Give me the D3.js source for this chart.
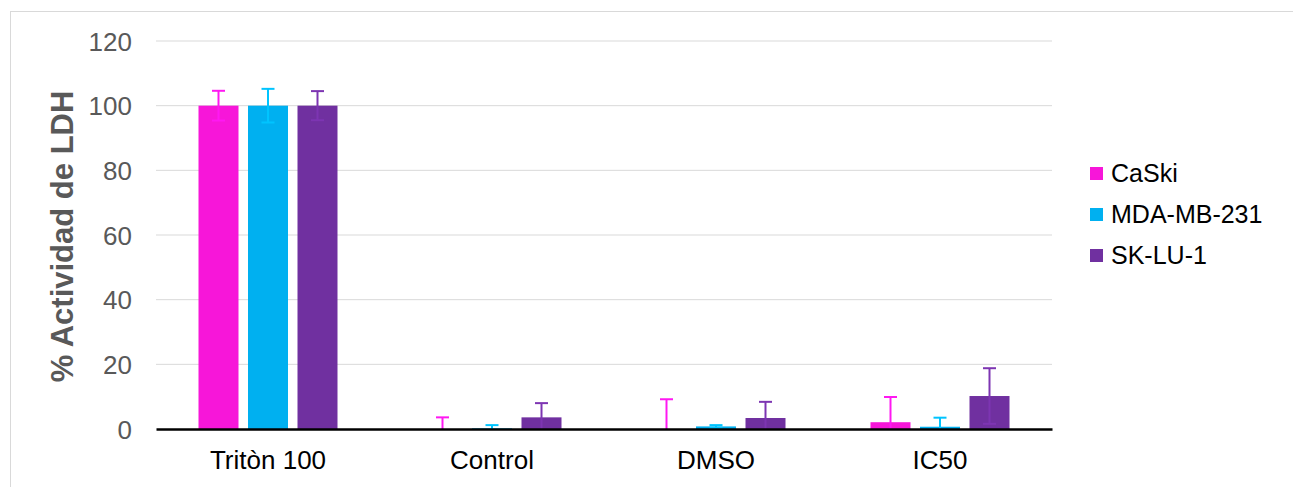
<!DOCTYPE html>
<html><head><meta charset="utf-8">
<script src="https://cdn.jsdelivr.net/npm/d3@7"></script>
<style>body{margin:0;background:#fff}svg{display:block}text{font-family:"Liberation Sans",Arial,sans-serif}</style>
</head><body>
<svg id="c" width="1293" height="487"></svg>
<script>
const categories = ["Tritòn 100", "Control", "DMSO", "IC50"];
const seriesNames = ["CaSki", "MDA-MB-231", "SK-LU-1"];
const seriesColors = ["#F716D9", "#00B0F0", "#7030A0"];
const caski = [100, 0, 0, 2.1];
const mda = [100, 0.2, 0.8, 0.7];
const sklu = [100, 3.6, 3.4, 10.2];
const caskiErr = [4.6, 3.6, 9.2, 7.8];
const mdaErr = [5.2, 1.0, 0.4, 2.8];
const skluErr = [4.5, 4.4, 5.0, 8.6];
const yTicks = [0, 20, 40, 60, 80, 100, 120];

const values = [caski, mda, sklu];
const errs = [caskiErr, mdaErr, skluErr];
const FF = '"Liberation Sans",Arial,sans-serif';

const svg = d3.select("#c");
svg.append("rect").attr("x", 10.5).attr("y", 11.5).attr("width", 1300).attr("height", 500)
  .attr("fill", "none").attr("stroke", "#d9d9d9").attr("stroke-width", 1);

const x0 = d3.scaleBand().domain(categories).range([156, 1052]);
const y = d3.scaleLinear().domain([0, 120]).range([429, 41]);
const barW = 40, step = 49.5;

// gridlines
svg.append("g").selectAll("line").data(yTicks.filter(t => t > 0)).join("line")
  .attr("x1", 156).attr("x2", 1052).attr("y1", d => y(d)).attr("y2", d => y(d))
  .attr("stroke", "#d9d9d9").attr("stroke-width", 1);

// y axis labels
const yAxis = d3.axisLeft(y).tickValues(yTicks).tickSize(0).tickPadding(0);
const ga = svg.append("g").attr("transform", "translate(132,0)").call(yAxis);
ga.select(".domain").remove();
ga.selectAll("text").attr("font-size", 26).attr("fill", "#595959").attr("dy", "0.35em").style("font-family", FF);

// bars
seriesNames.forEach((s, si) => {
  const g = svg.append("g");
  categories.forEach((c, ci) => {
    const cx = x0(c) + x0.bandwidth() / 2 + (si - 1) * step;
    const v = values[si][ci], e = errs[si][ci];
    if (v > 0) {
      g.append("rect").attr("x", cx - barW / 2).attr("width", barW)
        .attr("y", y(v)).attr("height", y(0) - y(v)).attr("fill", seriesColors[si]);
    }
    const col = d3.color(seriesColors[si]).brighter(0.3);
    const lo = Math.max(0, v - e);
    g.append("line").attr("x1", cx).attr("x2", cx).attr("y1", y(lo)).attr("y2", y(v + e))
      .attr("stroke", col).attr("stroke-width", 2);
    g.append("line").attr("x1", cx - 6.5).attr("x2", cx + 6.5).attr("y1", y(v + e)).attr("y2", y(v + e))
      .attr("stroke", col).attr("stroke-width", 2);
    if (v - e > 0) {
      g.append("line").attr("x1", cx - 6.5).attr("x2", cx + 6.5).attr("y1", y(v - e)).attr("y2", y(v - e))
        .attr("stroke", col).attr("stroke-width", 2);
    }
  });
});

// x axis
const xAxis = d3.axisBottom(x0).tickSize(0).tickPadding(22);
const gx = svg.append("g").attr("transform", `translate(0,${y(0)})`).call(xAxis);
gx.select(".domain").attr("stroke", "#000").attr("stroke-width", 2.5);
gx.selectAll("text").attr("font-size", 26).attr("fill", "#000").attr("dy", "0.71em").style("font-family", FF);

// y title
svg.append("text").attr("transform", "translate(73,236.5) rotate(-90)")
  .attr("text-anchor", "middle").attr("font-size", 31).attr("font-weight", "bold")
  .attr("fill", "#595959").text("% Actividad de LDH");

// legend
const lg = svg.append("g");
seriesNames.forEach((s, i) => {
  const ly = 173 + i * 41;
  lg.append("rect").attr("x", 1090).attr("y", ly - 6).attr("width", 13).attr("height", 13).attr("fill", seriesColors[i]);
  lg.append("text").attr("x", 1111).attr("y", ly).attr("dy", "0.35em").attr("font-size", 25).attr("fill", "#000").text(s);
});
</script>
</body></html>
